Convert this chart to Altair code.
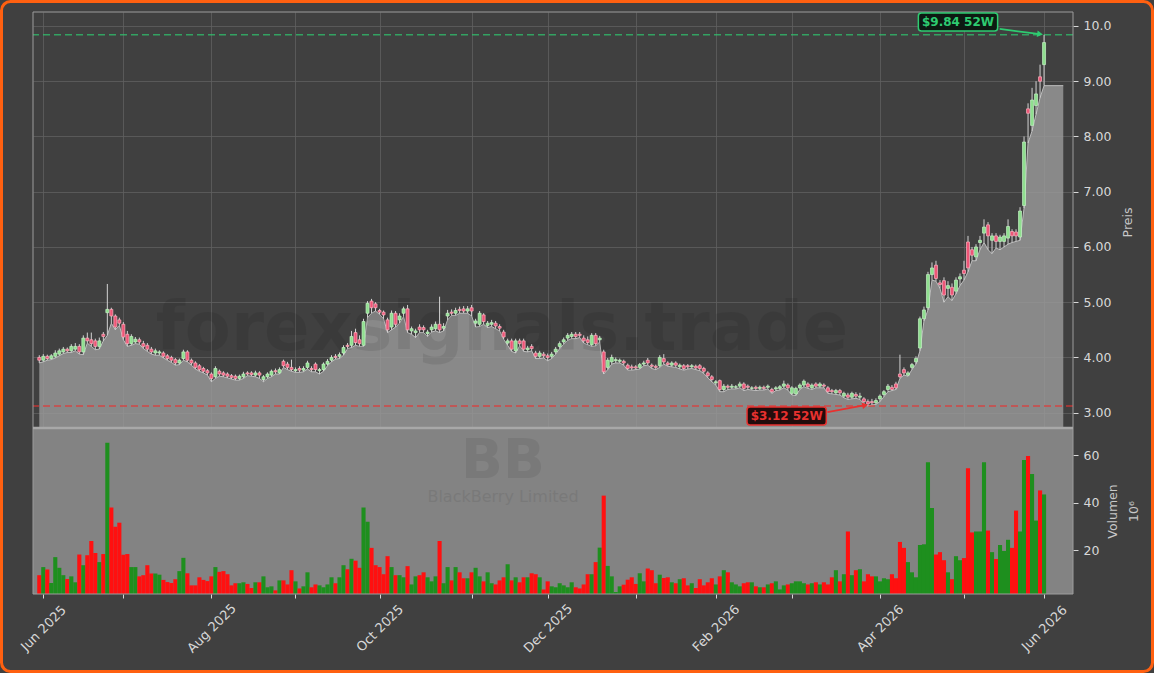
import altair as alt
import pandas as pd

# ---------------- data ----------------
opens = [
    4.00, 3.95, 4.02, 3.98, 4.02, 4.06, 4.10, 4.15, 4.12, 4.15,
    4.20, 4.10, 4.35, 4.32, 4.30, 4.20, 4.42, 4.81, 4.87, 4.75,
    4.68, 4.60, 4.42, 4.25, 4.28, 4.32, 4.25, 4.22, 4.15, 4.08,
    4.08, 4.08, 4.03, 4.00, 3.96, 3.90, 3.98, 4.10, 3.95, 3.90,
    3.85, 3.80, 3.76, 3.70, 3.65, 3.75, 3.72, 3.70, 3.67, 3.66,
    3.62, 3.65, 3.72, 3.72, 3.68, 3.72, 3.60, 3.65, 3.68, 3.76,
    3.72, 3.93, 3.88, 3.82, 3.76, 3.80, 3.77, 3.82, 3.80, 3.88,
    3.76, 3.78, 3.88, 3.95, 4.02, 4.02, 4.08, 4.22, 4.22, 4.45,
    4.32, 4.22, 4.80, 5.02, 4.97, 4.85, 4.82, 4.68, 4.55, 4.80,
    4.68, 4.80, 4.88, 4.48, 4.45, 4.55, 4.54, 4.43, 4.50, 4.52,
    4.60, 4.53, 4.75, 4.82, 4.80, 4.87, 4.88, 4.84, 4.90, 4.62,
    4.60, 4.77, 4.58, 4.60, 4.62, 4.56, 4.46, 4.26, 4.30, 4.12,
    4.30, 4.30, 4.14, 4.20, 4.08, 4.02, 4.06, 4.03, 4.02, 4.10,
    4.20, 4.28, 4.35, 4.38, 4.42, 4.42, 4.35, 4.32, 4.23, 4.40,
    4.32, 4.10, 3.82, 3.92, 3.94, 3.93, 3.93, 3.86, 3.83, 3.83,
    3.82, 3.88, 3.95, 3.86, 3.84, 3.85, 3.98, 3.90, 3.86, 3.90,
    3.83, 3.85, 3.85, 3.83, 3.84, 3.85, 3.80, 3.72, 3.65, 3.54,
    3.58, 3.42, 3.48, 3.46, 3.46, 3.48, 3.52, 3.48, 3.44, 3.46,
    3.44, 3.46, 3.46, 3.42, 3.43, 3.44, 3.48, 3.50, 3.35, 3.34,
    3.45, 3.50, 3.52, 3.45, 3.52, 3.48, 3.50, 3.45, 3.40, 3.36,
    3.40, 3.30, 3.32, 3.28, 3.33, 3.28, 3.25, 3.20, 3.20, 3.18,
    3.25, 3.33, 3.42, 3.46, 3.52, 3.70, 3.78, 3.68, 3.82, 3.92,
    4.17, 4.70, 4.90, 5.50, 5.67, 5.35, 5.39, 5.25, 5.27, 5.20,
    5.42, 5.58, 6.09, 5.95, 5.82, 6.08, 6.25, 6.40, 6.12, 6.20,
    6.10, 6.10, 6.16, 6.28, 6.27, 6.18, 6.75, 8.50, 8.20, 8.56,
    9.08, 9.30,
]
highs = [
    4.04, 4.06, 4.05, 4.06, 4.13, 4.16, 4.19, 4.18, 4.24, 4.26,
    4.24, 4.40, 4.45, 4.45, 4.34, 4.36, 4.46, 5.33, 4.90, 4.78,
    4.72, 4.64, 4.48, 4.42, 4.37, 4.36, 4.30, 4.26, 4.19, 4.16,
    4.13, 4.11, 4.06, 4.03, 3.99, 3.98, 4.14, 4.13, 3.98, 3.93,
    3.88, 3.83, 3.79, 3.73, 3.84, 3.78, 3.75, 3.73, 3.70, 3.69,
    3.69, 3.74, 3.75, 3.75, 3.76, 3.75, 3.68, 3.73, 3.78, 3.80,
    3.82, 3.96, 3.92, 3.96, 3.82, 3.84, 3.84, 3.94, 3.84, 3.91,
    3.81, 3.91, 3.97, 4.04, 4.06, 4.09, 4.22, 4.26, 4.48, 4.52,
    4.40, 4.70, 5.02, 5.06, 5.00, 4.88, 4.85, 4.72, 4.85, 4.84,
    4.80, 4.92, 4.95, 4.56, 4.52, 4.60, 4.58, 4.50, 4.60, 4.65,
    5.10, 4.62, 4.86, 4.87, 4.90, 4.92, 4.93, 4.93, 4.95, 4.70,
    4.84, 4.80, 4.66, 4.68, 4.66, 4.60, 4.50, 4.34, 4.34, 4.34,
    4.34, 4.34, 4.21, 4.24, 4.12, 4.12, 4.10, 4.07, 4.10, 4.19,
    4.29, 4.36, 4.44, 4.46, 4.46, 4.46, 4.40, 4.38, 4.44, 4.44,
    4.39, 4.14, 3.99, 4.05, 4.00, 3.98, 3.96, 3.89, 3.87, 3.86,
    3.90, 3.94, 3.99, 3.89, 3.87, 4.04, 4.06, 3.93, 3.93, 3.93,
    3.89, 3.88, 3.88, 3.88, 3.87, 3.88, 3.83, 3.75, 3.68, 3.59,
    3.60, 3.52, 3.51, 3.52, 3.50, 3.56, 3.55, 3.51, 3.48, 3.49,
    3.49, 3.49, 3.51, 3.45, 3.48, 3.50, 3.58, 3.53, 3.48, 3.47,
    3.53, 3.60, 3.55, 3.53, 3.55, 3.55, 3.53, 3.48, 3.43, 3.43,
    3.43, 3.38, 3.36, 3.38, 3.37, 3.36, 3.28, 3.24, 3.25, 3.26,
    3.33, 3.41, 3.52, 3.50, 3.56, 4.05, 3.82, 3.75, 3.90, 4.02,
    4.74, 4.92, 5.55, 5.72, 5.75, 5.40, 5.45, 5.38, 5.34, 5.45,
    5.52, 5.75, 6.20, 6.00, 6.05, 6.20, 6.50, 6.45, 6.25, 6.25,
    6.22, 6.25, 6.50, 6.32, 6.32, 6.72, 8.00, 8.60, 8.88, 9.00,
    9.30, 9.84,
]
lows = [
    3.90, 3.92, 3.95, 3.96, 3.99, 4.03, 4.07, 4.09, 4.09, 4.12,
    4.06, 4.05, 4.26, 4.20, 4.14, 4.15, 4.30, 4.40, 4.62, 4.50,
    4.58, 4.32, 4.20, 4.22, 4.25, 4.24, 4.16, 4.11, 4.06, 4.04,
    4.04, 3.99, 3.95, 3.91, 3.86, 3.87, 3.95, 3.92, 3.86, 3.79,
    3.75, 3.72, 3.68, 3.56, 3.62, 3.66, 3.65, 3.63, 3.61, 3.59,
    3.59, 3.62, 3.67, 3.66, 3.65, 3.62, 3.56, 3.62, 3.65, 3.70,
    3.70, 3.82, 3.78, 3.75, 3.73, 3.73, 3.74, 3.79, 3.74, 3.74,
    3.70, 3.75, 3.85, 3.92, 3.97, 3.98, 4.04, 4.16, 4.18, 4.22,
    4.20, 4.20, 4.72, 4.80, 4.84, 4.78, 4.70, 4.45, 4.50, 4.55,
    4.62, 4.74, 4.45, 4.42, 4.36, 4.45, 4.45, 4.38, 4.46, 4.48,
    4.45, 4.48, 4.68, 4.76, 4.76, 4.80, 4.80, 4.80, 4.75, 4.55,
    4.56, 4.60, 4.54, 4.56, 4.52, 4.48, 4.33, 4.22, 4.11, 4.08,
    4.21, 4.11, 4.10, 4.12, 3.98, 3.98, 3.99, 3.94, 3.98, 4.06,
    4.16, 4.24, 4.31, 4.34, 4.34, 4.36, 4.26, 4.23, 4.20, 4.21,
    4.28, 3.70, 3.78, 3.88, 3.90, 3.90, 3.86, 3.77, 3.77, 3.78,
    3.79, 3.85, 3.86, 3.80, 3.78, 3.82, 3.88, 3.84, 3.83, 3.82,
    3.79, 3.77, 3.79, 3.80, 3.78, 3.76, 3.71, 3.63, 3.56, 3.50,
    3.38, 3.38, 3.42, 3.43, 3.43, 3.45, 3.40, 3.42, 3.41, 3.40,
    3.41, 3.41, 3.43, 3.35, 3.40, 3.41, 3.45, 3.41, 3.32, 3.31,
    3.42, 3.47, 3.44, 3.42, 3.45, 3.45, 3.45, 3.35, 3.34, 3.33,
    3.32, 3.27, 3.24, 3.25, 3.26, 3.24, 3.16, 3.12, 3.14, 3.15,
    3.20, 3.29, 3.38, 3.40, 3.42, 3.62, 3.68, 3.66, 3.78, 3.88,
    4.12, 4.66, 4.86, 5.40, 5.38, 5.25, 5.00, 5.10, 5.03, 5.15,
    5.30, 5.40, 5.55, 5.75, 5.75, 5.95, 6.08, 5.95, 5.88, 5.98,
    5.95, 6.00, 6.05, 6.08, 6.10, 6.12, 6.70, 7.88, 8.10, 8.40,
    8.70, 8.92,
]
closes = [
    3.95, 4.02, 3.98, 4.03, 4.08, 4.12, 4.15, 4.12, 4.20, 4.20,
    4.10, 4.35, 4.30, 4.25, 4.20, 4.30, 4.38, 4.87, 4.75, 4.55,
    4.62, 4.37, 4.25, 4.38, 4.33, 4.28, 4.20, 4.15, 4.10, 4.12,
    4.10, 4.02, 3.98, 3.95, 3.90, 3.95, 4.10, 3.95, 3.90, 3.82,
    3.78, 3.75, 3.72, 3.62, 3.80, 3.70, 3.68, 3.66, 3.64, 3.62,
    3.66, 3.70, 3.70, 3.69, 3.72, 3.68, 3.65, 3.70, 3.75, 3.74,
    3.78, 3.85, 3.82, 3.78, 3.78, 3.77, 3.80, 3.90, 3.78, 3.78,
    3.78, 3.88, 3.93, 4.00, 4.00, 4.05, 4.18, 4.20, 4.38, 4.27,
    4.25, 4.65, 4.98, 4.90, 4.90, 4.82, 4.77, 4.50, 4.80, 4.60,
    4.75, 4.88, 4.50, 4.52, 4.48, 4.50, 4.50, 4.46, 4.55, 4.60,
    4.50, 4.56, 4.80, 4.80, 4.85, 4.85, 4.84, 4.88, 4.84, 4.66,
    4.80, 4.65, 4.62, 4.63, 4.57, 4.53, 4.37, 4.30, 4.15, 4.30,
    4.25, 4.15, 4.17, 4.16, 4.02, 4.08, 4.03, 4.00, 4.06, 4.15,
    4.25, 4.32, 4.40, 4.42, 4.38, 4.40, 4.30, 4.27, 4.40, 4.25,
    4.35, 3.74, 3.95, 4.00, 3.96, 3.95, 3.90, 3.80, 3.81, 3.81,
    3.87, 3.90, 3.90, 3.84, 3.82, 4.00, 3.92, 3.87, 3.90, 3.86,
    3.86, 3.80, 3.83, 3.85, 3.81, 3.80, 3.75, 3.67, 3.60, 3.56,
    3.42, 3.48, 3.46, 3.48, 3.47, 3.52, 3.44, 3.46, 3.45, 3.44,
    3.46, 3.44, 3.48, 3.38, 3.45, 3.47, 3.52, 3.45, 3.45, 3.44,
    3.50, 3.57, 3.47, 3.50, 3.48, 3.52, 3.48, 3.38, 3.38, 3.40,
    3.36, 3.35, 3.28, 3.35, 3.30, 3.30, 3.20, 3.16, 3.18, 3.22,
    3.30, 3.38, 3.48, 3.42, 3.45, 3.65, 3.72, 3.72, 3.87, 3.98,
    4.70, 4.86, 5.50, 5.62, 5.43, 5.32, 5.13, 5.30, 5.13, 5.40,
    5.46, 5.52, 5.62, 5.85, 6.00, 6.12, 6.36, 6.20, 6.20, 6.10,
    6.18, 6.20, 6.37, 6.20, 6.20, 6.65, 7.90, 8.42, 8.66, 8.77,
    9.00, 9.70,
]
volumes = [  # millions
    9.4, 12.8, 11.8, 6.1, 17.0, 12.5, 9.4, 7.8, 8.9, 6.4,
    18.1, 13.6, 17.8, 23.8, 18.7, 14.9, 18.3, 65.2, 37.9, 29.8,
    31.5, 18.0, 18.3, 12.8, 12.8, 8.9, 9.4, 13.6, 10.1, 10.1,
    9.6, 7.4, 6.5, 6.1, 7.7, 11.1, 16.7, 10.2, 5.1, 5.1,
    8.5, 7.4, 6.9, 8.9, 12.8, 10.8, 11.1, 9.8, 5.1, 6.0,
    6.0, 6.4, 5.7, 4.0, 6.4, 6.4, 8.9, 4.3, 4.7, 3.0,
    7.2, 7.2, 5.5, 11.5, 6.8, 3.8, 4.7, 10.6, 4.3, 5.5,
    5.1, 4.3, 5.5, 8.5, 6.0, 8.5, 13.6, 11.9, 16.3, 15.5,
    12.5, 37.9, 31.9, 20.9, 13.6, 12.8, 9.8, 17.4, 12.8, 9.4,
    9.4, 8.5, 13.2, 5.5, 8.9, 9.4, 10.6, 8.5, 6.8, 8.9,
    23.8, 6.0, 12.8, 7.2, 12.8, 10.6, 8.1, 8.1, 10.6, 12.5,
    8.9, 6.8, 10.6, 6.0, 5.5, 7.2, 8.5, 14.0, 7.2, 8.5,
    6.4, 8.5, 8.5, 10.2, 9.8, 8.5, 3.4, 6.8, 4.7, 4.3,
    6.0, 5.1, 4.3, 6.4, 4.3, 3.8, 5.5, 9.8, 9.8, 14.9,
    21.0, 42.9, 13.3, 8.9, 2.3, 4.7, 5.4, 7.5, 8.5, 5.7,
    10.2, 6.8, 12.2, 11.5, 6.0, 9.6, 8.2, 8.5, 6.4, 6.0,
    7.7, 8.1, 5.1, 6.0, 4.0, 7.7, 5.1, 6.4, 8.1, 5.5,
    8.9, 11.5, 10.6, 6.4, 5.5, 4.7, 6.0, 6.4, 6.4, 4.7,
    4.3, 4.3, 5.5, 6.0, 6.8, 3.4, 5.1, 5.5, 6.0, 6.8,
    6.8, 6.0, 5.5, 6.0, 6.4, 5.5, 6.4, 5.5, 8.5, 11.5,
    6.8, 9.8, 27.8, 9.4, 11.5, 11.9, 6.8, 9.8, 8.9, 8.9,
    6.8, 8.1, 7.7, 9.8, 8.1, 23.4, 20.9, 14.9, 10.6, 8.5,
    22.1, 22.4, 57.0, 37.7, 18.1, 19.1, 15.7, 10.6, 7.7, 17.4,
    15.7, 16.6, 54.4, 27.4, 27.8, 27.8, 57.0, 28.2, 19.1, 16.2,
    22.1, 19.6, 24.3, 20.9, 36.6, 27.8, 57.9, 59.6, 52.0, 32.4,
    45.1, 43.4,
]

# trading calendar (first and last session, exchange holidays)
FIRST_SESSION = "2025-05-30"
LAST_SESSION = "2026-06-01"
HOLIDAYS = ["2025-06-19", "2025-07-04", "2025-09-01", "2025-11-27", "2025-12-25",
            "2026-01-01", "2026-01-19", "2026-02-16", "2026-04-03", "2026-05-25"]
LABELED_MONTHS = [2, 4, 6, 8, 10, 12]

PRICE_TICKS = [3, 4, 5, 6, 7, 8, 9, 10]
VOLUME_TICKS = [20, 40, 60]
HIGH_52W = 9.84
LOW_52W = 3.12
HIGH_LABEL = "$9.84 52W"
LOW_LABEL = "$3.12 52W"
AREA_TAIL_INDEX = 255.8          # shaded series runs on flat past the last session
WATERMARK = "forexsignals.trade"
TICKER = "BB"
COMPANY = "BlackBerry Limited"

# ---------------- layout / style ----------------
PLOT_W, PLOT_H = 1040, 582
PRICE_H = 416
X_DOMAIN = [-0.32, 256.98]
PRICE_DOMAIN = [-0.282, 10.253]
PRICE_FLOOR = 2.723
VOLUME_DOMAIN = [1.47, 246.6]

BG = "#404040"
FONT = "DejaVu Sans"
UP_FILL, UP_STROKE = "#8fdf8f", "#c6f3c6"
DN_FILL, DN_STROKE = "#ee5577", "#ffb3c2"
WICK = "#d2d2d2"
VOL_UP, VOL_DN = "#1e8f1e", "#ff1010"
GREEN, RED = "#2ecc71", "#e8312f"
GRID = "#5f5f5f"
LABEL_C = "#d8d8d8"

# ---------------- frames ----------------
n = len(closes)
sessions = [d for d in pd.bdate_range(FIRST_SESSION, LAST_SESSION)
            if d.strftime("%Y-%m-%d") not in HOLIDAYS]
df = pd.DataFrame({"i": list(range(n)), "date": sessions[:n], "open": opens,
                   "high": highs, "low": lows, "close": closes, "volume": volumes})

dser = pd.Series(pd.to_datetime(df["date"]))
tick_idx, tick_lab = [], []
for _, grp in dser.groupby([dser.dt.year, dser.dt.month]):
    first = grp.iloc[0]
    if first.day <= 7:
        tick_idx.append(int(grp.index[0]))
        tick_lab.append(first.strftime("%b %Y") if first.month in LABELED_MONTHS else "")
label_expr = " : ".join(f"datum.value == {i} ? '{l}'" for i, l in zip(tick_idx, tick_lab) if l) + " : ''"

area_df = pd.DataFrame({"i": list(range(n)) + [AREA_TAIL_INDEX], "low": lows + [lows[-1]]})
area_df["floor"] = PRICE_FLOOR

ann = pd.DataFrame([
    {"label": HIGH_LABEL, "tx": 229.5, "ty": 10.07, "bx1": 219.6, "bx2": 239.4,
     "by1": 9.909, "by2": 10.235, "ax1": 239.9, "ay1": 9.946, "ax2": 250.0, "ay2": 9.852},
    {"label": LOW_LABEL, "tx": 186.7, "ty": 2.94, "bx1": 176.8, "bx2": 196.6,
     "by1": 2.777, "by2": 3.103, "ax1": 196.9, "ay1": 3.01, "ax2": 206.3, "ay2": 3.135},
])

# ---------------- encodings ----------------
xs = alt.Scale(domain=X_DOMAIN, nice=False, zero=False)
x_axis = alt.Axis(values=tick_idx, labelExpr=label_expr, labelAngle=315, labelFontSize=13,
                  labelColor=LABEL_C, labelFont=FONT, tickColor=LABEL_C, tickSize=4,
                  labelAlign="center", labelBaseline="middle",
                  domain=False, grid=True, gridColor=GRID, gridWidth=0.8,
                  labelOverlap=False, labelFlush=False, labelPadding=30, title=None)

ps = alt.Scale(domain=PRICE_DOMAIN, nice=False, zero=False)
p_axis = alt.Axis(orient="right", values=PRICE_TICKS,
                  labelExpr="datum.value >= 10 ? format(datum.value, '.1f') : format(datum.value, '.2f')",
                  labelFontSize=12.5, labelColor=LABEL_C, labelFont=FONT, tickColor=LABEL_C,
                  tickSize=5, labelPadding=5, domain=False, grid=True, gridColor=GRID,
                  gridWidth=0.8, title="Preis", titleAngle=270, titleX=54, titleY=210,
                  titleBaseline="middle", titleAlign="center", titleColor="#c8c8c8",
                  titleFontSize=12.5, titleFontWeight="normal", titleFont=FONT)

vs = alt.Scale(domain=VOLUME_DOMAIN, nice=False, zero=False)
v_axis = alt.Axis(orient="right", values=VOLUME_TICKS, format="d", labelFontSize=12.5,
                  labelColor=LABEL_C, labelFont=FONT, tickColor=LABEL_C, tickSize=5,
                  labelPadding=5, domain=False, grid=False, title=["Volumen", "10⁶"],
                  titleAngle=270, titleX=39, titleY=499, titleBaseline="middle",
                  titleAlign="center", titleColor="#c8c8c8", titleFontSize=12.5,
                  titleFontWeight="normal", titleFont=FONT, titleLineHeight=21)


def X(f):
    return alt.X(f"{f}:Q", scale=xs, axis=x_axis)


def PY(f):
    return alt.Y(f"{f}:Q", scale=ps, axis=p_axis)


def VY(f):
    return alt.Y(f"{f}:Q", scale=vs, axis=v_axis)


up = alt.datum.close >= alt.datum.open
one = alt.Data(values=[{"k": 1}])

# ---------------- volume group ----------------
vol_bg = alt.Chart(one).mark_rect(color="#838383").encode(
    x=alt.value(0), x2=alt.value(PLOT_W), y=alt.value(PRICE_H), y2=alt.value(PLOT_H))
bb = alt.Chart(one).mark_text(text=TICKER, font=FONT, fontSize=55, fontWeight="bold",
                              color="black", opacity=0.07, align="center").encode(
    x=alt.value(470), y=alt.value(449))
company = alt.Chart(one).mark_text(text=COMPANY, font=FONT, fontSize=16, color="black",
                                   opacity=0.07, align="center").encode(
    x=alt.value(470), y=alt.value(485))
vol_bars = alt.Chart(df).mark_bar(size=4.1, clip=True).encode(
    x=X("i"), y=VY("volume"),
    color=alt.when(up).then(alt.value(VOL_UP)).otherwise(alt.value(VOL_DN)))
vol_group = alt.layer(vol_bg, bb, company, vol_bars)

# ---------------- price group ----------------
area = alt.Chart(area_df).mark_area(color="#9a9a9a", opacity=0.82).encode(
    x=X("i"), y=PY("low"), y2=alt.Y2("floor"))
area_line = alt.Chart(area_df).mark_line(color="#bdbdbd", strokeWidth=1).encode(
    x=X("i"), y=PY("low"))
mark_wm = alt.Chart(one).mark_text(text=WATERMARK, font=FONT, fontSize=67, fontWeight="bold",
                                   color="black", opacity=0.08, align="center").encode(
    x=alt.value(469), y=alt.value(318))
hi_line = alt.Chart(pd.DataFrame({"p": [HIGH_52W]})).mark_rule(
    color=GREEN, opacity=0.7, strokeDash=[7, 4], strokeWidth=1.5).encode(y=PY("p"))
lo_line = alt.Chart(pd.DataFrame({"p": [LOW_52W]})).mark_rule(
    color=RED, opacity=0.75, strokeDash=[7, 4], strokeWidth=1.5).encode(y=PY("p"))
wicks = alt.Chart(df).mark_rule(color=WICK, strokeWidth=1).encode(
    x=X("i"), y=PY("low"), y2=alt.Y2("high"))
bodies = alt.Chart(df).mark_bar(size=3.0, strokeWidth=0.7).encode(
    x=X("i"), y=PY("open"), y2=alt.Y2("close"),
    color=alt.when(up).then(alt.value(UP_FILL)).otherwise(alt.value(DN_FILL)),
    stroke=alt.when(up).then(alt.value(UP_STROKE)).otherwise(alt.value(DN_STROKE)))

frame = alt.Chart(one).mark_rect(fillOpacity=0, stroke="#9c9c9c", strokeWidth=1).encode(
    x=alt.value(0), x2=alt.value(PLOT_W), y=alt.value(0), y2=alt.value(PLOT_H))
separator = alt.Chart(one).mark_rule(color="#a8a8a8", strokeWidth=2.5).encode(
    x=alt.value(0), x2=alt.value(PLOT_W), y=alt.value(PRICE_H))

ann_layers = []
for k, col, fill, ang in [(0, GREEN, "#0d1a12", 8), (1, RED, "#220c0c", 348)]:
    row = ann.iloc[[k]]
    box = alt.Chart(row).mark_rect(fill=fill, stroke=col, strokeWidth=1.5, cornerRadius=3).encode(
        x=X("bx1"), x2=alt.X2("bx2"), y=PY("by1"), y2=alt.Y2("by2"))
    txt = alt.Chart(row).mark_text(font=FONT, fontSize=12, fontWeight="bold", color=col,
                                   align="center", baseline="middle").encode(
        x=X("tx"), y=PY("ty"), text="label:N")
    arrow = alt.Chart(row).mark_rule(color=col, strokeWidth=1.8).encode(
        x=X("ax1"), x2=alt.X2("ax2"), y=PY("ay1"), y2=alt.Y2("ay2"))
    head = alt.Chart(row).mark_point(shape="triangle-right", filled=True, color=col,
                                     size=45, angle=ang, opacity=1).encode(
        x=X("ax2"), y=PY("ay2"))
    ann_layers += [arrow, head, box, txt]

border = alt.Chart(one).mark_rect(fillOpacity=0, stroke="#ff6010", strokeWidth=3,
                                  cornerRadius=9).encode(
    x=alt.value(-31.5), x2=alt.value(1119.5), y=alt.value(-10.5), y2=alt.value(659.5))

price_group = alt.layer(area, area_line, mark_wm, hi_line, lo_line, wicks, bodies,
                        frame, separator, *ann_layers, border)

chart = alt.layer(vol_group, price_group).resolve_scale(y="independent").properties(
    width=PLOT_W, height=PLOT_H, padding=0, background=BG
).configure_view(stroke=None)

chart.save("out.html", embed_options={"renderer": "svg", "actions": False})
